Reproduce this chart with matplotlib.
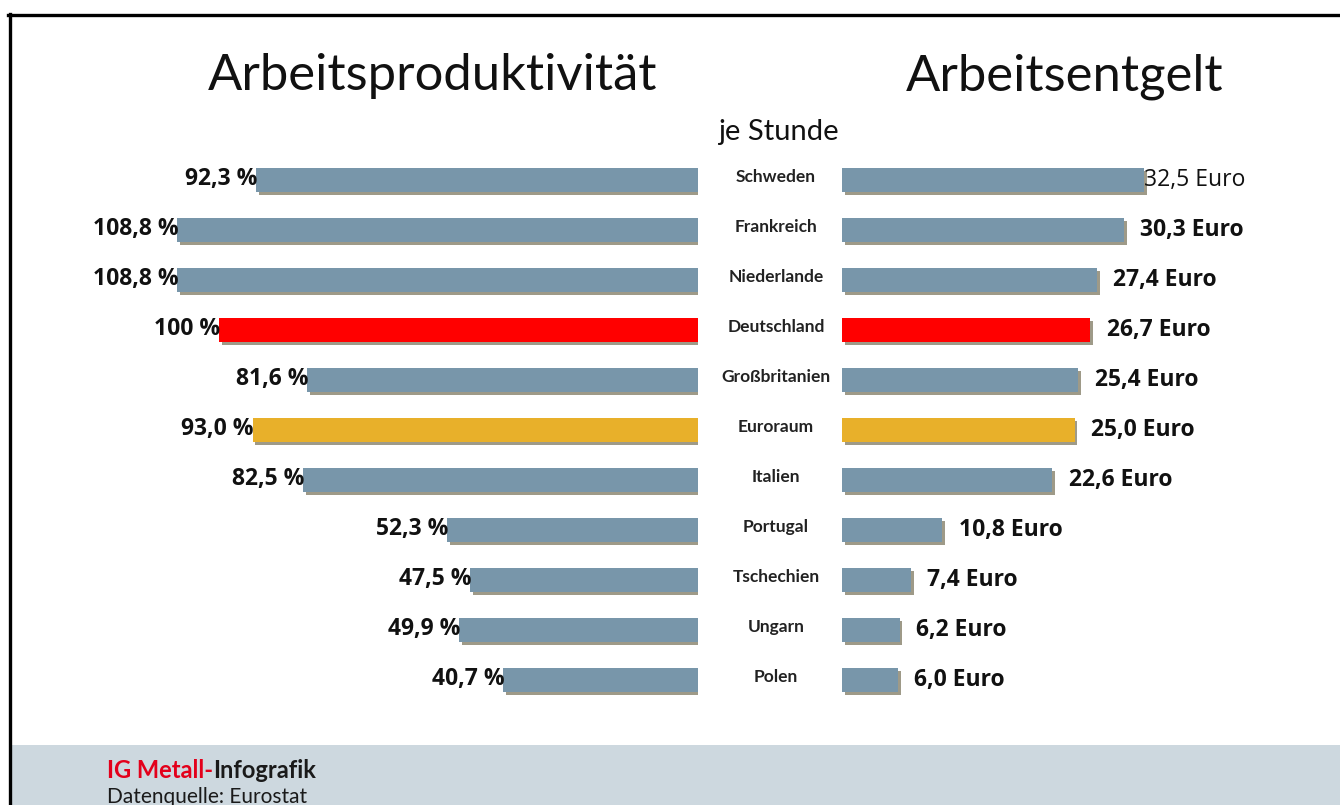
import matplotlib
matplotlib.use("Agg")
import matplotlib.pyplot as plt
import matplotlib.patheffects as pe
from matplotlib.patches import Rectangle
from matplotlib.lines import Line2D

countries = ["Schweden", "Frankreich", "Niederlande", "Deutschland", "Großbritanien",
             "Euroraum", "Italien", "Portugal", "Tschechien", "Ungarn", "Polen"]
productivity = [92.3, 108.8, 108.8, 100.0, 81.6, 93.0, 82.5, 52.3, 47.5, 49.9, 40.7]
productivity_labels = ["92,3 %", "108,8 %", "108,8 %", "100 %", "81,6 %", "93,0 %",
                       "82,5 %", "52,3 %", "47,5 %", "49,9 %", "40,7 %"]
wage = [32.5, 30.3, 27.4, 26.7, 25.4, 25.0, 22.6, 10.8, 7.4, 6.2, 6.0]
wage_labels = ["32,5 Euro", "30,3 Euro", "27,4 Euro", "26,7 Euro", "25,4 Euro", "25,0 Euro",
               "22,6 Euro", "10,8 Euro", "7,4 Euro", "6,2 Euro", "6,0 Euro"]

BLUE = "#7896aa"
RED = "#ff0000"
GOLD = "#e8b02a"
colors = [BLUE, BLUE, BLUE, RED, BLUE, GOLD, BLUE, BLUE, BLUE, BLUE, BLUE]

FONT = "Lato"
VFONT = "Open Sans"
W, H = 1340, 805
fig = plt.figure(figsize=(W / 100, H / 100), dpi=100)
fig.patch.set_facecolor("white")

def fx(px):
    return px / W

def fy(py):
    return 1 - py / H

top_px, bot_px = 155, 705
n = len(countries)
ypos = list(range(n))

left_end = 698
lscale = 4.79  # px per %
axL = fig.add_axes([0, fy(bot_px), fx(left_end), (bot_px - top_px) / H])
axL.set_xlim(left_end / lscale, 0)
axL.set_ylim(n - 0.5, -0.5)
right_start = 842
rscale = 9.3
axR = fig.add_axes([fx(right_start), fy(bot_px), fx(W - right_start), (bot_px - top_px) / H])
axR.set_xlim(0, (W - right_start) / rscale)
axR.set_ylim(n - 0.5, -0.5)

shadow = [pe.SimplePatchShadow(offset=(2, -2), shadow_rgbFace="#9e9a88", alpha=1.0), pe.Normal()]

for ax in (axL, axR):
    ax.axis("off")
    ax.patch.set_alpha(0)

barsL = axL.barh(ypos, productivity, height=0.48, color=colors, edgecolor="none")
barsR = axR.barh(ypos, wage, height=0.48, color=colors, edgecolor="none")
for b in list(barsL) + list(barsR):
    b.set_path_effects(shadow)

for i, (v, lab) in enumerate(zip(productivity, productivity_labels)):
    axL.annotate(lab, xy=(v, i), xytext=(1, 1), textcoords="offset points",
                 ha="right", va="center", fontsize=16.5, fontweight="bold",
                 family=VFONT, color="#111111")

for i, (v, lab) in enumerate(zip(wage, wage_labels)):
    first = (i == 0)
    axR.annotate(lab, xy=(v, i), xytext=(0 if first else 12, 0),
                 textcoords="offset points",
                 ha="left", va="center", fontsize=16.5,
                 fontweight="normal" if first else "bold",
                 family=VFONT, color="#111111")

for i, c in enumerate(countries):
    fig.text(fx(776), fy(180 + 50 * i - 3), c, ha="center", va="center",
             fontsize=12.5, fontweight="bold", family=FONT, color="#222222")

# titles
fig.text(fx(433), fy(90), "Arbeitsproduktivität", ha="center", va="baseline",
         fontsize=36.5, family=FONT, color="#111111")
fig.text(fx(1065), fy(90), "Arbeitsentgelt", ha="center", va="baseline",
         fontsize=36.5, family=FONT, color="#111111")
fig.text(fx(778), fy(140), "je Stunde", ha="center", va="baseline",
         fontsize=21, family=FONT, color="#111111")

# bottom band
fig.patches.append(Rectangle((fx(10), 0), 1 - fx(10), (H - 745) / H,
                             transform=fig.transFigure, facecolor="#cdd8df",
                             edgecolor="none", zorder=0))

# frame lines
fig.lines.append(Line2D([fx(8), 1], [fy(15), fy(15)], transform=fig.transFigure,
                        color="black", linewidth=2.4))
fig.lines.append(Line2D([fx(9.5), fx(9.5)], [0, fy(14)], transform=fig.transFigure,
                        color="black", linewidth=2.4))

t1 = fig.text(fx(107), fy(778), "IG Metall-", ha="left", va="baseline",
              fontsize=17, fontweight="bold", family=FONT, color="#e3001b")
fig.canvas.draw()
bb = t1.get_window_extent()
fig.text(bb.x1 / W, fy(778), "Infografik", ha="left", va="baseline",
         fontsize=17, fontweight="bold", family=FONT, color="#1a1a1a")
fig.text(fx(107), fy(803), "Datenquelle: Eurostat", ha="left", va="baseline",
         fontsize=15, family=FONT, color="#1a1a1a")

fig.savefig("out.png", dpi=100)
